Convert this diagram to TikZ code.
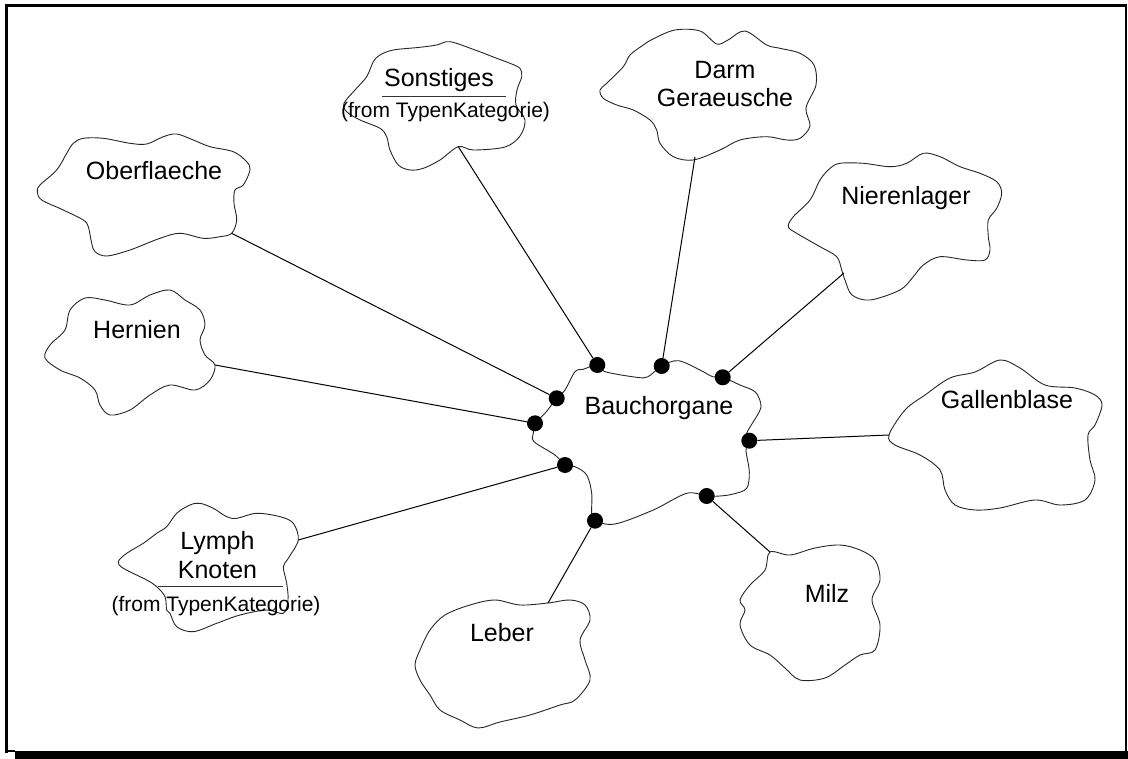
\documentclass[tikz,border=0pt]{standalone}
\usepackage{fontspec}
\setmainfont{Liberation Sans}
\begin{document}
\begin{tikzpicture}[x=1pt,y=-1pt,
  blob/.style={draw=black!85, line width=0.9pt, fill=white},
  lbl/.style={font=\fontsize{25}{28.5}\selectfont, align=center, inner sep=0pt},
  frm/.style={font=\fontsize{21}{24}\selectfont, inner sep=0pt},
  dotmark/.style={circle, fill=black, minimum size=16pt, inner sep=0pt},
  link/.style={line width=1pt},
  rule/.style={line width=0.9pt, draw=black!80}]
\useasboundingbox (0,0) rectangle (1128,759);

% frame with drop shadow
\fill[black] (15,751) rectangle (1128,759);
\draw[line width=3pt] (6.5,753) -- (6.5,5.5) -- (1126.5,5.5);
\draw[line width=2pt] (1126,5.5) -- (1126,752);
\draw[line width=2pt] (5,751) -- (15,751);

% ---- clouds ----
% Bauchorgane
\draw[blob] plot[smooth cycle, tension=0.55] coordinates {
 (597,365) (605,371.7) (636.7,377.3) (648,376.7) (661.7,366) (678.3,360.7)
 (700,370) (712.7,376.7) (722.7,377.3) (740,385) (755,391.7) (760.7,403.3)
 (759.3,411.7) (746.7,433.3) (749.3,440.7) (746,450) (749.3,471.7) (746.7,488.3)
 (733.3,494) (720,496) (706.7,496) (686.7,493.3) (653.3,510) (615,524)
 (595,520.7) (591.7,513.3) (591.7,493.3) (586.7,475) (575,466.7) (565,465)
 (555,455) (534,441.7) (533.3,433.3) (535,423.3) (545,413.3) (556.7,398.3)
 (565,390) (575,371.7) (583.3,369.3)};
% Sonstiges
\draw[blob] plot[smooth cycle, tension=0.55] coordinates {
 (450,41.7) (436.7,45) (420,47.3) (393.3,50) (380,55) (373.3,61.7) (366.7,76.7)
 (355,90) (344,103.3) (346.7,111.7) (360,120) (380,128.3) (386.7,136.7)
 (390,150) (398.3,165) (410,170) (423.3,168.3) (440,160) (458.3,146.7)
 (473.3,150) (505,147) (520,136) (525,120) (516,105) (517,90) (521.7,76.7)
 (520,68.3) (510,63.3) (496.7,58.3) (475,50)};
% Darm Geraeusche
\draw[blob] plot[smooth cycle, tension=0.55] coordinates {
 (653,39) (675,30) (700,31) (716.7,44) (728,40) (745,31) (766.7,45) (780,48.3)
 (800,53.3) (814,65) (816,85) (806,108) (810,126) (800,138.3) (786.7,140)
 (766.7,136.7) (740,140) (720,150) (693.3,160) (673.3,156.7) (660,143.3)
 (656.7,130) (650,120) (633.3,110) (616.7,105) (603.3,98.3) (600,90)
 (606.7,83.3) (623.3,66.7) (630,55) (643.3,45)};
% Nierenlager
\draw[blob] plot[smooth cycle, tension=0.55] coordinates {
 (923.3,153.3) (940,156.7) (960,166.7) (980,173.3) (996.7,181.7) (1001.7,193.3)
 (996.7,208.3) (988.3,220) (988.3,236.7) (990,250) (985,260) (966.7,260)
 (940,256.7) (923.3,265) (913.3,276.7) (900,290) (870,300) (852,295)
 (845,280) (841.7,270) (836.7,256.7) (820,246.7) (796.7,233.3) (788.3,226.7)
 (793.3,216.7) (810,200) (820,180) (830,168.3) (840,163.3) (863.3,163.3)
 (890,166.7) (906.7,163.3)};
% Oberflaeche
\draw[blob] plot[smooth cycle, tension=0.55] coordinates {
 (73.3,143.3) (83.3,138.3) (103.3,138.3) (130,143.3) (146.7,144) (163.3,136.7)
 (176.7,134) (193.3,140) (210,146.7) (233.3,151.7) (246.7,161.7) (250,170)
 (243.3,185) (235,190) (234,203.3) (236.7,220) (231.7,233.3) (220,236.7)
 (203.3,238.3) (180,233.3) (160,238.3) (130,250) (106.7,256) (95,251.7)
 (91.7,243.3) (88.3,226.7) (83.3,220) (63.3,210) (41.7,200) (37.3,191.7)
 (40,185) (56.7,170) (66.7,153.3)};
% Hernien
\draw[blob] plot[smooth cycle, tension=0.55] coordinates {
 (70,310) (85,298) (105,300) (130,305) (150,295) (170,290) (185,300)
 (200,310) (205,325) (200,340) (205,355) (215,365) (210,380) (195,390)
 (170,385) (150,395) (130,410) (110,415) (100,405) (95,390) (80,378)
 (60,370) (45,358) (50,345) (65,330)};
% Gallenblase
\draw[blob] plot[smooth cycle, tension=0.55] coordinates {
 (889,435) (905,410) (925,395) (950,378) (975,372) (1000,360) (1020,368)
 (1045,385) (1075,388) (1095,395) (1102,405) (1095,425) (1088,435)
 (1090,460) (1095,480) (1085,500) (1060,505) (1035,500) (1000,508)
 (975,510) (955,505) (945,490) (940,470) (920,455) (895,445)};
% Milz
\draw[blob] plot[smooth cycle, tension=0.55] coordinates {
 (740,600) (750,585) (765,570) (770,552) (790,555) (815,548) (840,545)
 (860,550) (875,560) (880,580) (872,600) (880,625) (875,650) (860,655)
 (845,665) (825,678) (800,680) (785,668) (770,655) (750,645) (740,625)
 (745,610)};
% Leber
\draw[blob] plot[smooth cycle, tension=0.55] coordinates {
 (420,650) (430,630) (445,615) (470,605) (495,600) (520,605) (548,603)
 (570,600) (585,605) (590,620) (580,640) (585,660) (590,680) (575,700)
 (560,705) (530,715) (500,722) (478,728) (460,720) (440,710) (430,695)
 (420,680) (415,665)};
% Lymph Knoten
\draw[blob] plot[smooth cycle, tension=0.55] coordinates {
 (190,505) (200,503.3) (213.3,508.3) (226.7,516.7) (236.7,518.3) (256.7,513.3)
 (280,516.7) (293.3,523.3) (298.3,540) (288.3,558.3) (283.3,566.7)
 (286.7,583.3) (288,600) (283.3,613.3) (266.7,610) (240,615) (216.7,623.3)
 (193.3,631.7) (176.7,626.7) (170,613.3) (166.7,610) (165,596.7)
 (156.7,586.7) (146.7,580) (123.3,568.3) (118.3,561.7) (126.7,553.3)
 (143.3,543.3) (156.7,533.3) (166.7,526.7) (176.7,513.3)};

% ---- labels ----
\node[lbl, anchor=base] (bauch) at (659,414) {Bauchorgane};
\node[lbl, anchor=base] (sonst) at (439,86.7) {Sonstiges};
\draw[rule] (381.7,96) -- (505.7,96);
\node[frm, anchor=base] (sonstfrom) at (445.5,118) {(from TypenKategorie)};
\node[lbl] (darm) at (725,84) {Darm\\Geraeusche};
\node[lbl, anchor=base] (niere) at (906,205) {Nierenlager};
\node[lbl, anchor=base] (ober) at (154,180) {Oberflaeche};
\node[lbl, anchor=base] (hern) at (137,339) {Hernien};
\node[lbl, anchor=base] (galle) at (1007,409) {Gallenblase};
\node[lbl, anchor=base] (milz) at (827,602) {Milz};
\node[lbl, anchor=base] (leber) at (502,641) {Leber};
\node[lbl, anchor=base] (lymph) at (217.5,549) {Lymph};
\node[lbl, anchor=base] (knoten) at (217.5,578) {Knoten};
\draw[rule] (158,586) -- (283,586);
\node[frm, anchor=base] (lymphfrom) at (216,611.7) {(from TypenKategorie)};

% ---- attachment points on the outer clouds ----
\coordinate (aS) at (458.3,146.7);
\coordinate (aD) at (695,157);
\coordinate (aN) at (844,273);
\coordinate (aG) at (889,435);
\coordinate (aM) at (770,552);
\coordinate (aL) at (548,603);
\coordinate (aK) at (298.3,540);
\coordinate (aH) at (215,365);
\coordinate (aO) at (231.7,233.3);

% ---- aggregation ends on Bauchorgane ----
\node[dotmark] (dS) at (597.3,365) {};
\node[dotmark] (dD) at (661.7,366) {};
\node[dotmark] (dN) at (722.7,377.3) {};
\node[dotmark] (dG) at (749.3,440.7) {};
\node[dotmark] (dM) at (706.7,496) {};
\node[dotmark] (dL) at (595,520.7) {};
\node[dotmark] (dK) at (565,465) {};
\node[dotmark] (dH) at (535,423.3) {};
\node[dotmark] (dO) at (556.7,398.3) {};

% ---- connectors ----
\draw[link] (aS) -- (dS);
\draw[link] (aD) -- (dD);
\draw[link] (aN) -- (dN);
\draw[link] (aG) -- (dG);
\draw[link] (aM) -- (dM);
\draw[link] (aL) -- (dL);
\draw[link] (aK) -- (dK);
\draw[link] (aH) -- (dH);
\draw[link] (aO) -- (dO);
\end{tikzpicture}
\end{document}
